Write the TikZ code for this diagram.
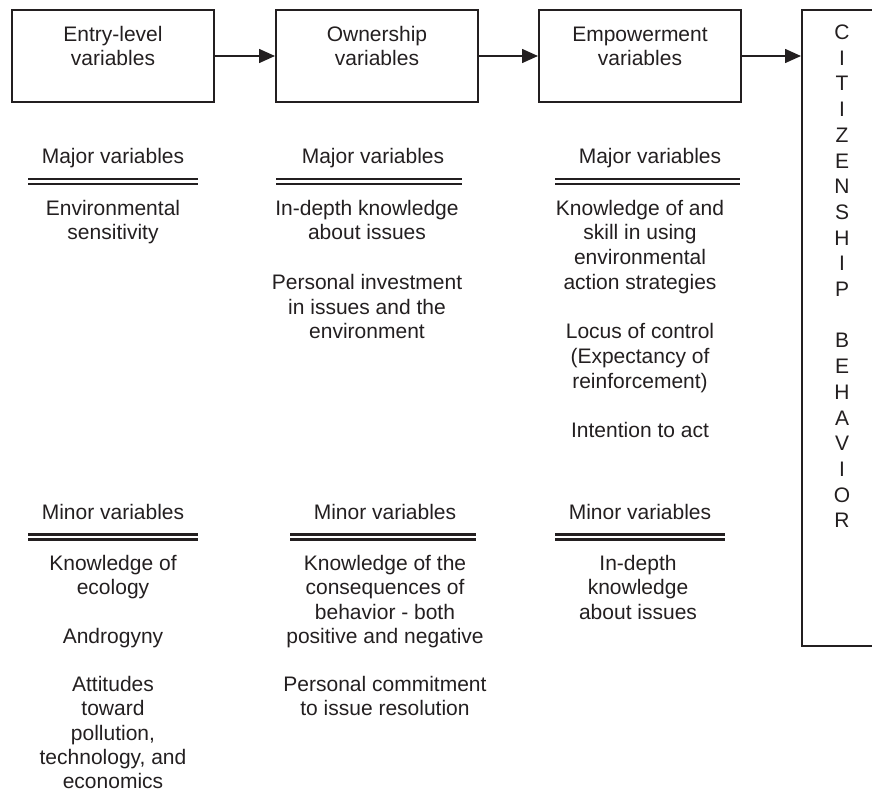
\documentclass[tikz,border=0pt]{standalone}
\usepackage{fontspec}
\setmainfont{Liberation Sans}
\usetikzlibrary{arrows.meta}
\definecolor{ink}{RGB}{35,31,32}
% strut fixing the top of a text block 18pt above its first baseline
\newcommand{\fl}{\rule{0pt}{18pt}}
\begin{document}
\begin{tikzpicture}[x=1pt,y=-1pt,
  txt/.style={font=\fontsize{21}{24.7}\selectfont, align=center, inner sep=0pt, anchor=north, text=ink},
  ltxt/.style={font=\fontsize{21}{24.2}\selectfont, align=center, inner sep=0pt, anchor=north, text=ink},
  vtxt/.style={font=\fontsize{21}{25.7}\selectfont, align=center, inner sep=0pt, anchor=north, text=ink},
  stage/.style={draw=ink, line width=2pt, minimum width=202pt, minimum height=92pt, inner sep=0pt},
  flow/.style={draw=ink, line width=1.5pt, -{Triangle[length=16pt,width=14pt]}},
  dbl/.style={draw=ink, line width=2.2pt}
]
\useasboundingbox (0,0) rectangle (872,795);

% stage boxes
\node[stage] (b1) at (113,56) {};
\node[stage] (b2) at (377,56) {};
\node[stage] (b3) at (640,56) {};
\node[txt] (t1) at (113,23) {\fl Entry-level\\variables};
\node[txt] (t2) at (377,23) {\fl Ownership\\variables};
\node[txt] (t3) at (640,23) {\fl Empowerment\\variables};

% outcome box, open on the right
\node[draw=ink, line width=2pt, minimum width=100pt, minimum height=636pt, inner sep=0pt] (cb) at (852,328) {};
\node[vtxt] (cbt) at (842,21.3) {\fl C\\I\\T\\I\\Z\\E\\N\\S\\H\\I\\P\\[25.7pt]B\\E\\H\\A\\V\\I\\O\\R};

% flow arrows
\draw[flow] (b1.east) -- (b2.west);
\draw[flow] (b2.east) -- (b3.west);
\draw[flow] (b3.east) -- (b3.east -| cb.west);

% major variables
\node[txt] (h1) at (113,145) {\fl Major variables};
\node[txt] (h2) at (373,145) {\fl Major variables};
\node[txt] (h3) at (650,145) {\fl Major variables};
\draw[dbl] (28,179) -- (198,179) (28,184) -- (198,184);
\draw[dbl] (276,179) -- (462,179) (276,184) -- (462,184);
\draw[dbl] (555,179) -- (740,179) (555,184) -- (740,184);

\node[txt] (m1) at (113,197) {\fl Environmental\\sensitivity};
\node[txt] (m2) at (367,197) {\fl In-depth knowledge\\about issues\\[24.7pt]Personal investment\\in issues and the\\environment};
\node[txt] (m3) at (640,197) {\fl Knowledge of and\\skill in using\\environmental\\action strategies\\[24.7pt]Locus of control\\(Expectancy of\\reinforcement)\\[24.7pt]Intention to act};

% minor variables
\node[txt] (n1) at (113,501) {\fl Minor variables};
\node[txt] (n2) at (385,501) {\fl Minor variables};
\node[txt] (n3) at (640,501) {\fl Minor variables};
\draw[dbl] (28,534.5) -- (198,534.5) (28,539.5) -- (198,539.5);
\draw[dbl] (290,534.5) -- (476,534.5) (290,539.5) -- (476,539.5);
\draw[dbl] (555,534.5) -- (725,534.5) (555,539.5) -- (725,539.5);

\node[ltxt] (p1) at (113,552.5) {\fl Knowledge of\\ecology\\[24.2pt]Androgyny\\[24.2pt]Attitudes\\toward\\pollution,\\technology, and\\economics};
\node[ltxt] (p2) at (385,552.5) {\fl Knowledge of the\\consequences of\\behavior - both\\positive and negative\\[24.2pt]Personal commitment\\to issue resolution};
\node[ltxt] (p3) at (638,552.5) {\fl In-depth\\knowledge\\about issues};
\end{tikzpicture}
\end{document}
